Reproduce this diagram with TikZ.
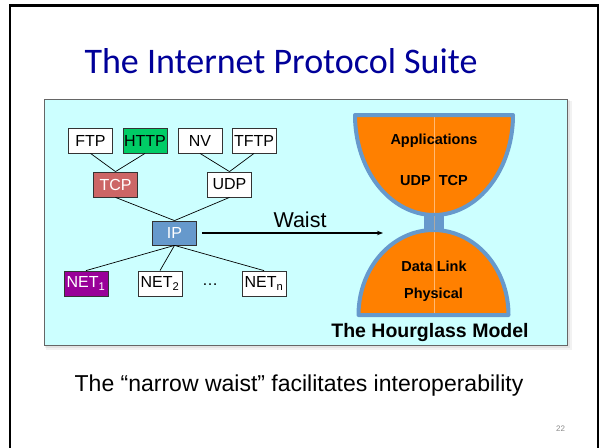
\documentclass[tikz,border=0pt]{standalone}
\usepackage{fontspec}
\setmainfont{Liberation Sans}
\newfontfamily\titlefont{Carlito}
\usetikzlibrary{arrows.meta}
\definecolor{cyanbg}{RGB}{204,255,255}
\definecolor{titleblue}{RGB}{0,0,153}
\definecolor{ipblue}{RGB}{102,153,204}
\definecolor{httpgreen}{RGB}{0,204,102}
\definecolor{tcpred}{RGB}{204,102,102}
\definecolor{netpurple}{RGB}{153,0,153}
\definecolor{hgorange}{RGB}{255,128,0}
\begin{document}
\begin{tikzpicture}[x=1pt,y=-1pt,
  proto/.style={draw=black!80, line width=0.8pt, fill=white, minimum width=44pt,
    minimum height=25pt, inner sep=0pt, font=\fontsize{16}{19}\selectfont},
  link/.style={draw=black, line width=0.7pt},
  hgtext/.style={font=\bfseries\fontsize{14.5}{17}\selectfont, anchor=base},
  hgline/.style={draw=ipblue, line width=4pt, line join=round, line cap=round},
]
\useasboundingbox (0,0) rectangle (602,447);
\fill[white] (0,0) rectangle (602,447);
% outer frame
\draw[line width=2.5pt] (10,452) -- (10,5.5) -- (598,5.5) -- (598,452);
% title
\node[anchor=base, text=titleblue, font=\titlefont\fontsize{36}{40}\selectfont, inner sep=0pt]
  (title) at (281,73) {The Internet Protocol Suite};
% shadow and cyan panel
\fill[black, opacity=0.05] (46,101) rectangle (572,350);
\fill[black, opacity=0.06] (45,100) rectangle (570,348);
\draw[draw=black!60, line width=1pt, fill=cyanbg] (44,99) rectangle (567,345);
% protocol boxes
\node[proto] (ftp)  at (90.5,140.5) {FTP};
\node[proto, fill=httpgreen] (http) at (145,140.5) {HTTP};
\node[proto] (nv)   at (200,140.5) {NV};
\node[proto] (tftp) at (254,140.5) {TFTP};
\node[proto, fill=tcpred, text=white] (tcp) at (115.5,184.5) {TCP};
\node[proto] (udp)  at (229.5,184.5) {UDP};
\node[proto, fill=ipblue, text=white, minimum height=24pt] (ip) at (174.5,233) {IP};
\node[proto, fill=netpurple, text=white] (net1) at (86,283.5) {NET\textsubscript{1}};
\node[proto] (net2) at (160,283.5) {NET\textsubscript{2}};
\node[proto] (netn) at (264,283.5) {NET\textsubscript{n}};
\node[font=\fontsize{16}{19}\selectfont, inner sep=0pt] (dots) at (210,285) {\dots};
% links
\draw[link] (ftp.south) -- (tcp.north);
\draw[link] (http.south) -- (tcp.north);
\draw[link] (nv.south) -- (udp.north);
\draw[link] (tftp.south) -- (udp.north);
\draw[link] (tcp.south) -- (ip.north);
\draw[link] (udp.south) -- (ip.north);
\draw[link] (ip.south) -- (net1.north);
\draw[link] (ip.south) -- (net2.north);
\draw[link] (ip.south) -- (netn.north);
% waist arrow
\coordinate (wend) at (383,233);
\draw[line width=1.2pt, -{Stealth[length=6pt,width=4.5pt]}, shorten <=5pt] (ip.east) -- (wend);
\node[anchor=base, font=\fontsize{21.5}{24}\selectfont, inner sep=0pt] (waist) at (300,227) {Waist};
% hourglass
\fill[hgorange] (355,115) -- (513,115) -- plot[domain=0:180, samples=80] ({434+79*cos(\x)},{115+100*sin(\x)}) -- cycle;
\fill[hgorange] (358.5,315) -- plot[domain=180:360, samples=80] ({433.5+75*cos(\x)},{315+85*sin(\x)}) -- cycle;
\draw[hgorange!55!white, line width=0.6pt] (433.8,116) -- (433.8,314);
\draw[hgline] (355,115) -- (513,115) -- plot[domain=0:180, samples=80] ({434+79*cos(\x)},{115+100*sin(\x)}) -- cycle;
\draw[hgline] (358.5,315) -- plot[domain=180:360, samples=80] ({433.5+75*cos(\x)},{315+85*sin(\x)}) -- cycle;
\fill[ipblue] (424,215) rectangle (444,231);
\draw[hgorange!55!white, line width=0.4pt, opacity=0.5] (433.8,216) -- (433.8,230);
\node[hgtext] (apps) at (434,144) {Applications};
\node[hgtext] (ut) at (434,185.5) {UDP\ \ TCP};
\node[hgtext] (dl) at (434,271) {Data Link};
\node[hgtext] (ph) at (433.5,298) {Physical};
\node[anchor=base, font=\bfseries\fontsize{19.5}{22}\selectfont, inner sep=0pt] (hgm) at (430,337.5) {The Hourglass Model};
% bottom text
\node[anchor=base, font=\fontsize{23}{27}\selectfont, inner sep=0pt] (caption) at (299,391)
  {The “narrow waist” facilitates interoperability};
\node[anchor=base, font=\fontsize{8}{9}\selectfont, text=black!45, inner sep=0pt] (pagenum) at (560.5,431) {22};
\end{tikzpicture}
\end{document}
